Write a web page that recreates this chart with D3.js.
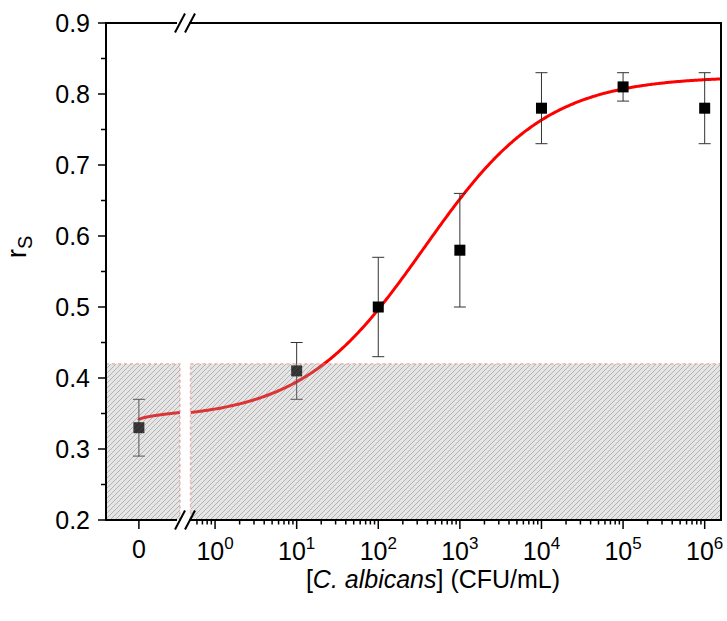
<!DOCTYPE html>
<html>
<head>
<meta charset="utf-8">
<script src="https://cdn.jsdelivr.net/npm/d3@7"></script>
<style>
  html, body { margin: 0; padding: 0; background: #fff; }
  svg { display: block; font-family: "Liberation Sans", Arial, sans-serif; }
</style>
</head>
<body>
<svg id="chart" width="727" height="621"></svg>
<script>
// Measured concentrations (CFU/mL) and signal r_S with standard deviations
const concentrations = [0, 1e1, 1e2, 1e3, 1e4, 1e5, 1e6];
const rsValues      = [0.33, 0.41, 0.50, 0.58, 0.78, 0.81, 0.78];
const rsErrors      = [0.04, 0.04, 0.07, 0.08, 0.05, 0.02, 0.05];

// Logistic dose-response fit (in log10 of concentration)
const fitA1 = 0.341, fitA2 = 0.825, fitLogX0 = 2.56, fitP = 0.58;

// Axis ticks
const yTicks = [0.2, 0.3, 0.4, 0.5, 0.6, 0.7, 0.8, 0.9];
const xDecades = [0, 1, 2, 3, 4, 5, 6];

// Detection-limit band
const bandTop = 0.42;

const svg = d3.select("#chart");
const plotL = 106, plotR = 721, plotT = 23, plotB = 520;
const breakL = 180, breakR = 190.5;

const y = d3.scaleLinear().domain([0.2, 0.9]).range([plotB, plotT]);
// Left segment of the broken axis: linear around zero
const xLin = d3.scaleLinear().domain([-0.4, 0.5]).range([plotL, breakL]);
// Right segment: logarithmic
const xLog = d3.scaleLog().domain([0.5, Math.pow(10, 6.2)]).range([breakR, plotR]);
const xPos = v => v === 0 ? xLin(0) : xLog(v);

const fit = x => {
  const t = x <= 0 ? 0 : Math.pow(x / Math.pow(10, fitLogX0), fitP);
  return fitA2 + (fitA1 - fitA2) / (1 + t);
};

const defs = svg.append("defs");
defs.append("clipPath").attr("id", "clipL").append("rect")
  .attr("x", plotL).attr("y", plotT).attr("width", breakL - plotL).attr("height", plotB - plotT);
defs.append("clipPath").attr("id", "clipR").append("rect")
  .attr("x", breakR).attr("y", plotT).attr("width", plotR - breakR).attr("height", plotB - plotT);

const pat = defs.append("pattern").attr("id", "hatch")
  .attr("patternUnits", "userSpaceOnUse").attr("width", 5).attr("height", 5);
pat.append("rect").attr("width", 5).attr("height", 5).attr("fill", "rgba(170,170,170,0.3)");
pat.append("path").attr("d", "M0,5 L5,0 M-1,1 L1,-1 M4,6 L6,4")
  .attr("stroke", "rgba(90,90,90,0.4)").attr("stroke-width", 0.9);

// Fitted curve in both segments
const lineL = d3.line().x(d => xLin(d)).y(d => y(fit(d)));
const lineR = d3.line().x(d => xLog(d)).y(d => y(fit(d)));
const samplesL = d3.range(0, 401).map(i => 0.5 * Math.pow(i / 400, 2));
const lo = Math.log10(0.5), hi = 6.2;
const samplesR = d3.range(0, 401).map(i => Math.pow(10, lo + (hi - lo) * i / 400));

svg.append("path").datum(samplesL).attr("clip-path", "url(#clipL)")
  .attr("d", lineL).attr("fill", "none").attr("stroke", "#ff0000").attr("stroke-width", 3);
svg.append("path").datum(samplesR).attr("clip-path", "url(#clipR)")
  .attr("d", lineR).attr("fill", "none").attr("stroke", "#ff0000").attr("stroke-width", 3);

// Error bars
const pts = concentrations.map((c, i) => ({ c, v: rsValues[i], e: rsErrors[i] }));
const eb = svg.append("g").attr("stroke", "#333").attr("stroke-width", 1);
pts.forEach(p => {
  const cx = xPos(p.c);
  eb.append("line").attr("x1", cx).attr("x2", cx).attr("y1", y(p.v - p.e)).attr("y2", y(p.v + p.e));
  eb.append("line").attr("x1", cx - 6).attr("x2", cx + 6).attr("y1", y(p.v + p.e)).attr("y2", y(p.v + p.e));
  eb.append("line").attr("x1", cx - 6).attr("x2", cx + 6).attr("y1", y(p.v - p.e)).attr("y2", y(p.v - p.e));
});

// Markers
svg.append("g").selectAll("rect").data(pts).join("rect")
  .attr("x", d => xPos(d.c) - 5.5).attr("y", d => y(d.v) - 5.5)
  .attr("width", 11).attr("height", 11).attr("fill", "#000");

// Hatched band below the detection threshold
[[plotL, breakL], [breakR, plotR]].forEach(([a, b]) => {
  svg.append("rect").attr("x", a).attr("y", y(bandTop))
    .attr("width", b - a).attr("height", y(0.2) - y(bandTop))
    .attr("fill", "url(#hatch)")
    .attr("stroke", "rgba(240,120,120,0.5)").attr("stroke-width", 1.5)
    .attr("stroke-dasharray", "3,3");
});

// Axes frame
const ax = svg.append("g").attr("stroke", "#000").attr("fill", "none");
ax.append("line").attr("x1", plotL).attr("x2", plotL).attr("y1", plotT - 1).attr("y2", plotB + 1).attr("stroke-width", 2);
ax.append("line").attr("x1", plotR).attr("x2", plotR).attr("y1", plotT - 1).attr("y2", plotB + 1).attr("stroke-width", 2);
[plotT, plotB].forEach(yy => {
  ax.append("line").attr("x1", plotL).attr("x2", 177).attr("y1", yy).attr("y2", yy).attr("stroke-width", 2);
  ax.append("line").attr("x1", 189).attr("x2", plotR).attr("y1", yy).attr("y2", yy).attr("stroke-width", 2);
  // break marks
  [175, 185].forEach(x0 => {
    ax.append("line").attr("x1", x0).attr("y1", yy + 9.5).attr("x2", x0 + 10).attr("y2", yy - 9.5).attr("stroke-width", 2);
  });
});

// Y ticks
const yMinor = d3.range(0.25, 0.9, 0.1);
yTicks.forEach(t => {
  ax.append("line").attr("x1", plotL - 8).attr("x2", plotL).attr("y1", y(t)).attr("y2", y(t)).attr("stroke-width", 1.5);
});
yMinor.forEach(t => {
  ax.append("line").attr("x1", plotL - 5).attr("x2", plotL).attr("y1", y(t)).attr("y2", y(t)).attr("stroke-width", 1.5);
});
svg.append("g").selectAll("text").data(yTicks).join("text")
  .attr("x", 90).attr("y", d => y(d) + 9)
  .attr("text-anchor", "end").attr("font-size", 25).attr("fill", "#000")
  .text(d => d.toFixed(1));

// X ticks: zero on the linear segment, decades on the log segment
ax.append("line").attr("x1", xLin(0)).attr("x2", xLin(0)).attr("y1", plotB).attr("y2", plotB + 9).attr("stroke-width", 1.5);
xDecades.forEach(n => {
  const xx = xLog(Math.pow(10, n));
  ax.append("line").attr("x1", xx).attr("x2", xx).attr("y1", plotB).attr("y2", plotB + 9).attr("stroke-width", 1.5);
});
const minorVals = [0.6, 0.7, 0.8, 0.9];
for (let n = 0; n < 6; n++) for (let k = 2; k <= 9; k++) minorVals.push(k * Math.pow(10, n));
minorVals.forEach(v => {
  const xx = xLog(v);
  ax.append("line").attr("x1", xx).attr("x2", xx).attr("y1", plotB).attr("y2", plotB + 4.5).attr("stroke-width", 1.5);
});

svg.append("text").attr("x", xLin(0)).attr("y", 558)
  .attr("text-anchor", "middle").attr("font-size", 25).text("0");
xDecades.forEach(n => {
  const t = svg.append("text").attr("x", xLog(Math.pow(10, n))).attr("y", 560)
    .attr("text-anchor", "middle").attr("font-size", 25);
  t.append("tspan").text("10");
  t.append("tspan").attr("font-size", 17).attr("dy", -11).text(String(n));
});

// Axis titles
const xt = svg.append("text").attr("x", 433).attr("y", 588)
  .attr("text-anchor", "middle").attr("font-size", 25);
xt.append("tspan").text("[");
xt.append("tspan").attr("font-style", "italic").text("C. albicans");
xt.append("tspan").text("] (CFU/mL)");

const yt = svg.append("text").attr("transform", "translate(26,247) rotate(-90)")
  .attr("text-anchor", "middle").attr("font-size", 28);
yt.append("tspan").text("r");
yt.append("tspan").attr("font-size", 20).attr("dy", 6).text("S");
</script>
</body>
</html>
